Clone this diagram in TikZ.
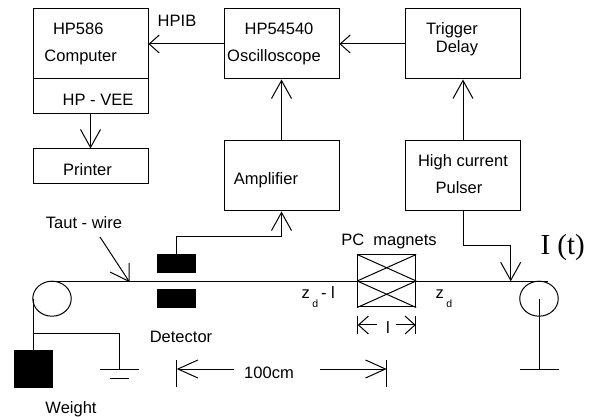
\documentclass[tikz,border=0pt]{standalone}
\usepackage{fontspec}
\setmainfont{Liberation Sans}
\newfontfamily\serifI{Liberation Serif}
\usetikzlibrary{arrows.meta,shapes.geometric}
\newcommand{\subd}{\raisebox{-9pt}{\fontsize{10.5}{12}\selectfont d}}
\tikzset{
  x=1pt,y=-1pt,
  every path/.style={line width=1pt},
  box/.style={draw,rectangle,inner sep=0pt,minimum width=#1},
  box/.default=115pt,
  lab/.style={inner sep=0pt,anchor=base,font=\fontsize{16.5}{18}\selectfont},
  labw/.style={lab,anchor=base west},
  solid block/.style={draw,fill=black,rectangle,inner sep=0pt,minimum width=38pt,minimum height=18pt},
  pulley/.style={draw,ellipse,inner sep=0pt,minimum width=38.5pt,minimum height=35pt},
  open/.style={-{Straight Barb[length=18pt,width=20pt,line width=1pt]}},
  openshort/.style={-{Straight Barb[length=10pt,width=18pt,line width=1pt]}},
  openlong/.style={-{Straight Barb[length=20pt,width=18pt,line width=1pt]}},
}
\begin{document}
\begin{tikzpicture}
\useasboundingbox (0,0) rectangle (590,417);
% boxes
\node[box,minimum height=70pt] (comp) at (90.5,44) {};
\node[box,minimum height=35pt] (vee) at (90.5,96.5) {};
\node[box,minimum height=35pt] (printer) at (90.5,166.5) {};
\node[box,minimum height=70pt] (osc) at (281.5,44) {};
\node[box,minimum height=70pt] (trig) at (463,44) {};
\node[box,minimum height=70pt] (amp) at (281.5,176) {};
\node[box,minimum height=70pt] (puls) at (463,176) {};
% labels
\node[lab] (t1) at (78.3,35) {HP586};
\node[lab] (t2) at (80.7,62) {Computer};
\node[lab] (t3) at (98,106) {HP - VEE};
\node[lab] (t4) at (87.5,176) {Printer};
\node[lab] (t5) at (177,27) {HPIB};
\node[lab] (t6) at (279,35) {HP54540};
\node[lab] (t7) at (274,62) {Oscilloscope};
\node[lab] (t8) at (266,185) {Amplifier};
\node[lab] (t9) at (452,35) {Trigger};
\node[lab] (t10) at (457,53) {Delay};
\node[lab] (t11) at (463,167) {High current};
\node[lab] (t12) at (459,194) {Pulser};
\node[lab] (t13) at (84,229) {Taut - wire};
\node[lab] (t14) at (389,246) {PC\ \ magnets};
\node[lab] (t15) at (181,343) {Detector};
\node[lab] (t16) at (269,378) {100cm};
\node[lab] (t17) at (71,413) {Weight};
\node[labw] (t18) at (301,299) {z\kern2.5pt\subd\kern3pt- l};
\node[labw] (t19) at (435,299) {z\kern2.5pt\subd};
\node[lab] (t20) at (388,334) {l};
\node[inner sep=0pt,anchor=base west,font=\serifI\fontsize{29}{32}\selectfont] (t21) at (540,255) {I (t)};
% top connectors
\draw[openshort] (osc.west) -- (comp.east);
\draw[openshort] (trig.west) -- (osc.east);
\draw[open] (vee.south) -- (printer.north);
\draw[open] (amp.north) -- (osc.south);
\draw[open] (puls.north) -- (trig.south);
% pulleys and wire
\node[pulley] (pl) at (52,298.7) {};
\node[pulley] (pr) at (539,298.7) {};
\coordinate (wl) at (52,281.3);
\coordinate (wr) at (548,281.3);
\draw (wl) -- (wr);
% detector
\node[solid block] (dt) at (176.5,263.7) {};
\node[solid block] (db) at (176.5,298.7) {};
\coordinate (dbend) at (281.5,237);
\draw[open] (dt.north) |- (dbend) -- (amp.south);
% taut-wire arrow
\coordinate (ts) at (100,237);
\coordinate (te) at (129,281.3);
\draw (ts) -- (te);
\draw (129,263) -- (te) -- (110,272);
% pulser arrow
\coordinate (pbend) at (510.7,246);
\coordinate (pend) at (510.7,281.3);
\draw[open] (puls.south) |- (pbend) -- (pend);
% magnets
\node[box=58pt,minimum height=52pt] (mag) at (386.7,281) {};
\draw (mag.north west) -- (mag.east);
\draw (mag.west) -- (mag.north east);
\draw (mag.west) -- (mag.south east);
\draw (mag.east) -- (mag.south west);
% l dimension
\coordinate (la) at (377,325);
\coordinate (lb) at (396,325);
\coordinate (lc) at (357.7,325);
\coordinate (ld) at (415.7,325);
\draw (357.7,316) -- (357.7,334);
\draw (415.7,316) -- (415.7,334);
\draw[openshort] (la) -- (lc);
\draw[openshort] (lb) -- (ld);
% weight and ground
\node[draw,fill=black,rectangle,inner sep=0pt,minimum width=38pt,minimum height=36pt] (weight) at (33.3,369) {};
\coordinate (gj) at (33.3,334);
\coordinate (gc) at (119,334);
\coordinate (gb) at (119,369);
\draw (33.3,298.7) -- (weight.north);
\draw (gj) -- (gc) -- (gb);
\draw (100,369) -- (139,369);
\draw (110,378) -- (129,378);
% 100cm dimension
\coordinate (da) at (234,369);
\coordinate (db2) at (176.7,369);
\coordinate (dc) at (320,369);
\coordinate (dd) at (386.7,369);
\draw (176.7,360) -- (176.7,387);
\draw (386.7,360) -- (386.7,387);
\draw[openlong] (da) -- (db2);
\draw[openlong] (dc) -- (dd);
% right stem
\coordinate (st) at (539.5,298.7);
\coordinate (sb) at (539.5,369);
\draw (st) -- (sb);
\draw (520,369) -- (558.5,369);
\end{tikzpicture}
\end{document}
